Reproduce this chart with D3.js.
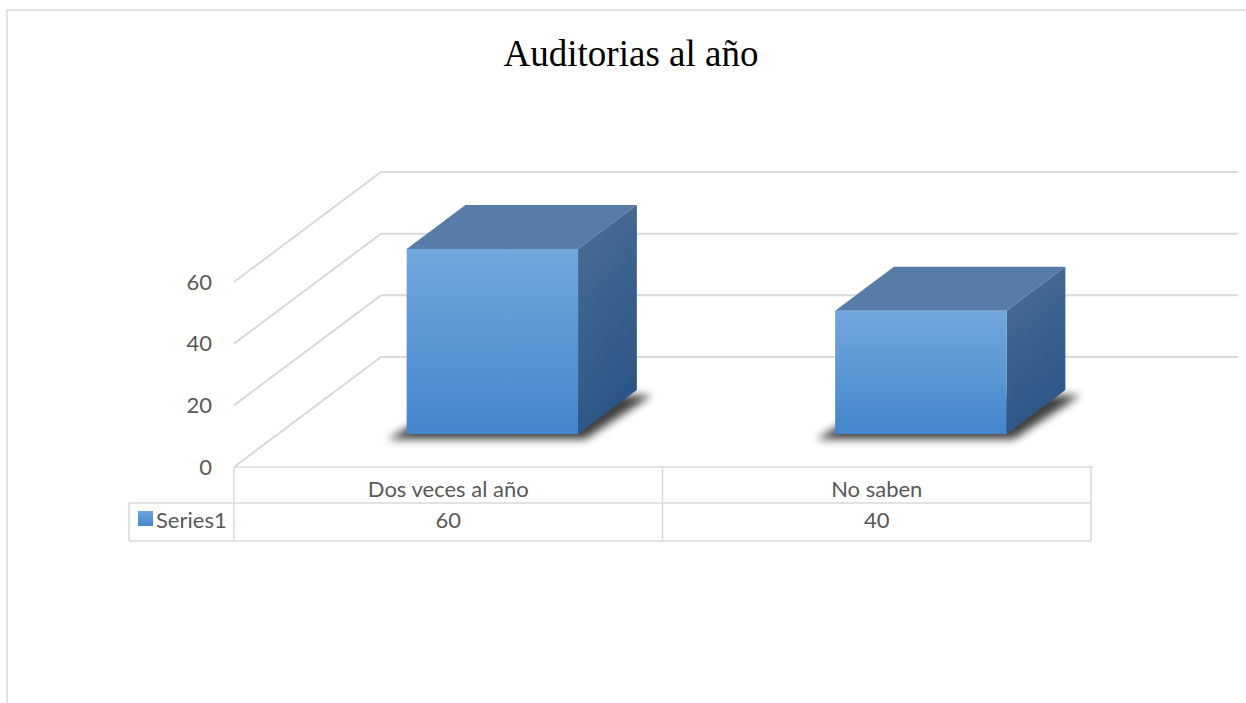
<!DOCTYPE html>
<html>
<head>
<meta charset="utf-8">
<script src="https://cdn.jsdelivr.net/npm/d3@7"></script>
<style>
  body { margin: 0; background: #fff; }
</style>
</head>
<body>
<div id="chart"></div>
<script>
// data
const title = "Auditorias al año";
const categories = ["Dos veces al año", "No saben"];
const values = [60, 40];
const seriesName = "Series1";
const yTicks = [0, 20, 40, 60];

const W = 1246, H = 703;
const grid = "#d9d9d9", textCol = "#595959";
const lblFont = "Lato, 'Open Sans', sans-serif";

// 3d depth vector (front -> back wall)
const DX = 147, DY = -110;
const d0 = 0.3, d1 = 0.7;   // bar depth span

var svg = d3.select("#chart").append("svg")
  .attr("width", W).attr("height", H);

var defs = svg.append("defs");
var gFront = defs.append("linearGradient").attr("id", "gFront")
  .attr("x1", 0).attr("y1", 0).attr("x2", 0).attr("y2", 1);
gFront.append("stop").attr("offset", "0%").attr("stop-color", "#72a7de");
gFront.append("stop").attr("offset", "100%").attr("stop-color", "#4386cb");
var gSide = defs.append("linearGradient").attr("id", "gSide")
  .attr("x1", 0).attr("y1", 0).attr("x2", 0.3).attr("y2", 1);
gSide.append("stop").attr("offset", "0%").attr("stop-color", "#4b6e96");
gSide.append("stop").attr("offset", "100%").attr("stop-color", "#2a5686");
var gKey = defs.append("linearGradient").attr("id", "gKey")
  .attr("x1", 0).attr("y1", 0).attr("x2", 0).attr("y2", 1);
gKey.append("stop").attr("offset", "0%").attr("stop-color", "#6fa5dc");
gKey.append("stop").attr("offset", "100%").attr("stop-color", "#4386cb");
defs.append("filter").attr("id", "blur")
  .attr("x", "-20%").attr("y", "-50%").attr("width", "140%").attr("height", "200%")
  .append("feGaussianBlur").attr("stdDeviation", 4);

// chart area border
svg.append("rect")
  .attr("x", 7).attr("y", 10).attr("width", 1400).attr("height", 900)
  .attr("fill", "none").attr("stroke", grid).attr("stroke-width", 1.5);

// title
svg.append("text")
  .attr("x", 631).attr("y", 66)
  .attr("text-anchor", "middle")
  .attr("font-family", "'Liberation Serif', 'Times New Roman', serif")
  .attr("font-size", "37px")
  .attr("fill", "#000")
  .text(title);

// scales
var x = d3.scaleBand().domain(categories).range([234, 1091]);
var y = d3.scaleLinear().domain([0, 60]).range([467, 282]);

function P(px, v, d) { return [px + d * DX, y(v) + d * DY]; }
function poly(pts) { return "M" + pts.map(p => p.join(",")).join("L") + "Z"; }

// back wall + side wall gridlines
yTicks.forEach(function(t) {
  var a = P(x.range()[0], t, 0), b = P(x.range()[0], t, 1), c = P(x.range()[1], t, 1);
  svg.append("path")
    .attr("d", "M" + a + "L" + b + "L" + c)
    .attr("fill", "none").attr("stroke", grid).attr("stroke-width", 2);
});

// y labels
svg.append("g").selectAll("text").data(yTicks).join("text")
  .attr("x", 212).attr("y", d => y(d))
  .attr("dy", "0.35em")
  .attr("text-anchor", "end")
  .attr("font-family", lblFont).attr("font-size", "22px")
  .attr("fill", textCol)
  .text(d => d);

// data table
var tTop = 467, tMid = 503, tBot = 541, legL = 129;
var tg = svg.append("g").attr("stroke", grid).attr("stroke-width", 1.5).attr("fill", "none");
tg.append("line").attr("x1", 234).attr("x2", 1093).attr("y1", tTop).attr("y2", tTop);
tg.append("line").attr("x1", legL).attr("x2", 1091).attr("y1", tMid).attr("y2", tMid);
tg.append("line").attr("x1", legL).attr("x2", 1091).attr("y1", tBot).attr("y2", tBot);
tg.append("line").attr("x1", legL).attr("x2", legL).attr("y1", tMid).attr("y2", tBot);
[x.range()[0]].concat(categories.map(c => x(c) + x.bandwidth())).forEach(function(xx) {
  tg.append("line").attr("x1", xx).attr("x2", xx).attr("y1", tTop).attr("y2", tBot);
});

svg.append("g").selectAll("text").data(categories).join("text")
  .attr("x", d => x(d) + x.bandwidth() / 2).attr("y", 497)
  .attr("text-anchor", "middle")
  .attr("font-family", lblFont).attr("font-size", "22px")
  .attr("fill", textCol)
  .text(d => d);

svg.append("g").selectAll("text").data(values).join("text")
  .attr("x", (d, i) => x(categories[i]) + x.bandwidth() / 2).attr("y", 528)
  .attr("text-anchor", "middle")
  .attr("font-family", lblFont).attr("font-size", "22px")
  .attr("fill", textCol)
  .text(d => d);

svg.append("rect")
  .attr("x", 138).attr("y", 511).attr("width", 15).attr("height", 15)
  .attr("fill", "url(#gKey)");
svg.append("text")
  .attr("x", 156).attr("y", 528)
  .attr("font-family", lblFont).attr("font-size", "22px")
  .attr("fill", textCol)
  .text(seriesName);

// bars
var bw = x.bandwidth() * 0.4;
values.forEach(function(v, i) {
  var x0 = x(categories[i]) + (x.bandwidth() - bw) / 2, x1 = x0 + bw;
  var g = svg.append("g");

  // shadow under the base
  g.append("path")
    .attr("d", poly([P(x0 - 16, 0, d0 - 0.02), P(x1 + 10, 0, d0 - 0.02),
                     P(x1 + 18, 0, d1 - 0.02), P(x0, 0, d1 - 0.02)]))
    .attr("transform", "translate(0,3)")
    .attr("fill", "#000").attr("opacity", 0.75)
    .attr("filter", "url(#blur)");

  // right side
  g.append("path")
    .attr("d", poly([P(x1, 0, d0), P(x1, 0, d1), P(x1, v, d1), P(x1, v, d0)]))
    .attr("fill", "url(#gSide)");
  // top
  g.append("path")
    .attr("d", poly([P(x0, v, d0), P(x1, v, d0), P(x1, v, d1), P(x0, v, d1)]))
    .attr("fill", "#577ca7");
  // front
  g.append("path")
    .attr("d", poly([P(x0, 0, d0), P(x1, 0, d0), P(x1, v, d0), P(x0, v, d0)]))
    .attr("fill", "url(#gFront)");
});
</script>
</body>
</html>
